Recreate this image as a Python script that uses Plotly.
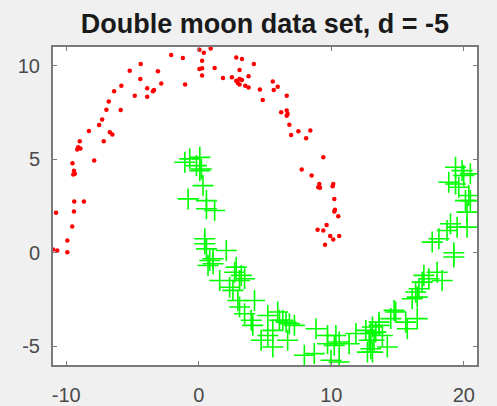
import plotly.graph_objects as go

# Upper moon (red dots)
red_x = [-2.08, -1.20, 0.05, 0.38, 0.25, 0.05, 0.25, 0.25, -4.38, -5.21,
         -3.08, -4.41, -2.83, -1.03, -5.84, -6.39, -3.89, -3.38, -3.46, -4.83,
         -3.89, -6.79, -6.97, -5.89, -7.29, -7.52, -8.29, -6.71, -6.52, -7.17,
         -8.98, -9.10, -8.93, -9.17, 0.90, 1.20, 2.83, 3.26, 4.16, 3.08,
         1.83, 2.50, 2.83, 3.08, 3.26, 2.95, 3.08, 3.76, 3.51, 3.76,
         4.61, 5.59, 5.96, 5.66, 6.64, 4.83, 6.22, 6.64, 6.64, 6.71,
         6.84, 6.97, 7.52, 8.42, 8.10, -9.53, -7.89, -9.42, -9.35, -9.47,
         -9.40, -8.67, -10.77, -9.42, -9.55, -9.92, -10.68, -9.92, -11.0, 9.40,
         7.77, 8.52, 9.10, 9.15, 9.02, 10.15, 10.10, 10.23, 10.28, 10.23,
         10.53, 9.65, 8.97, 9.40, 9.92, 10.15, 10.60, 9.53]
red_y = [10.57, 10.41, 10.85, 10.69, 10.27, 9.82, 9.86, 9.47, 10.09, 9.73,
         9.70, 9.29, 9.05, 8.99, 8.93, 8.63, 8.79, 8.70, 8.63, 8.40,
         8.34, 8.09, 7.65, 7.63, 7.12, 6.83, 6.51, 6.44, 6.32, 5.96,
         5.96, 5.64, 5.58, 5.52, 10.92, 9.88, 10.44, 10.36, 10.09, 9.77,
         9.34, 9.38, 9.20, 9.29, 9.24, 9.08, 8.99, 9.43, 8.93, 8.84,
         8.73, 9.15, 8.88, 8.70, 8.40, 8.17, 7.51, 7.60, 7.33, 7.42,
         6.85, 6.30, 6.49, 6.53, 6.12, 4.78, 4.93, 4.39, 4.22, 4.18,
         2.74, 2.74, 2.14, 2.21, 1.40, 0.66, 0.12, 0.03, 0.18, 5.10,
         4.45, 4.13, 3.68, 3.47, 3.50, 3.68, 3.56, 2.88, 2.30, 2.21,
         1.95, 1.49, 1.23, 1.19, 0.89, 0.71, 0.89, 0.43]

# Lower moon (green crosses)
green_x = [-1.05, -0.68, 0.08, -0.17, 0.20, 0.08, 0.32, -0.80, 0.58, 0.58,
           1.20, 0.45, 0.45, 0.58, 2.08, 0.83, 1.08, 2.83, 0.70, 1.08,
           19.38, 19.87, 20.50, 20.00, 18.87, 19.38, 19.62, 20.38, 20.13, 20.50,
           20.25, 19.00, 19.50, 20.25, 18.74, 18.12, 17.62, 19.25, 2.71, 3.21,
           3.46, 3.08, 1.58, 2.33, 2.58, 2.95, 3.08, 4.21, 3.46, 3.96,
           4.08, 5.21, 5.96, 6.09, 6.34, 6.59, 6.84, 7.22, 8.85, 5.59,
           5.21, 4.71, 5.59, 6.71, 7.97, 8.72, 9.72, 9.72, 10.35, 10.23,
           10.60, 11.35, 9.98, 10.60, 11.86, 12.61, 13.11, 13.36, 12.98, 13.61,
           13.23, 12.98, 13.11, 12.73, 13.86, 14.23, 14.49, 14.86, 15.62, 15.74,
           16.49, 16.11, 16.49, 16.37, 16.62, 16.86, 16.99, 17.37, 17.99, 18.37,
           19.25, 12.86, 13.61, 14.74]
green_y = [4.84, 5.02, 5.10, 4.66, 4.48, 4.39, 3.59, 2.88, 2.79, 2.35,
           2.26, 0.75, 0.48, 0.21, 0.12, -0.41, -0.59, -0.77, -0.68, -0.32,
           4.57, 4.39, 4.22, 4.13, 3.77, 3.68, 3.50, 3.06, 2.79, 2.79,
           2.17, 1.55, 1.37, 1.37, 1.19, 0.75, 0.57, 0.00, -1.04, -1.21,
           -1.39, -1.48, -1.48, -1.84, -2.01, -2.55, -2.90, -2.55, -3.26, -3.61,
           -3.88, -3.35, -3.17, -3.61, -3.61, -3.71, -3.79, -3.88, -4.06, -4.15,
           -4.42, -4.68, -5.04, -4.68, -5.48, -5.39, -4.42, -4.86, -4.42, -4.95,
           -4.77, -4.86, -5.75, -5.84, -4.32, -4.15, -3.97, -4.24, -4.32, -3.71,
           -4.68, -5.13, -5.31, -5.31, -4.42, -5.04, -3.52, -3.17, -3.71, -4.06,
           -3.52, -2.46, -2.37, -2.10, -1.92, -1.57, -1.21, -1.39, -1.04, -1.48,
           -0.23, -4.68, -3.88, -3.08]

x_ticks = [-10, 0, 10, 20]
y_ticks = [-5, 0, 5, 10]
title_text = "Double moon data set, d = -5"

fig = go.Figure()
fig.add_trace(go.Scatter(
    x=red_x, y=red_y, mode="markers",
    marker=dict(color="#ff0000", size=4.5, line=dict(width=0)),
    showlegend=False, cliponaxis=True, hoverinfo="skip"))
fig.add_trace(go.Scatter(
    x=green_x, y=green_y, mode="markers",
    marker=dict(symbol="cross-thin", color="#00ff00", size=15,
                line=dict(color="#00ff00", width=1.6)),
    showlegend=False, cliponaxis=True, hoverinfo="skip"))

axis_common = dict(
    showline=True, linecolor="#7a7a7a", linewidth=2, mirror="allticks",
    ticks="inside", ticklen=4, tickcolor="#7a7a7a", tickwidth=1,
    showgrid=False, zeroline=False, automargin=False,
    tickfont=dict(family="Liberation Sans, Arial", size=20, color="#4a4a4a"),
)

fig.update_layout(
    width=497, height=406,
    paper_bgcolor="#f0f0f0", plot_bgcolor="#ffffff",
    margin=dict(l=53, r=20, t=47, b=41, autoexpand=False),
    title=dict(text="<b>" + title_text + "</b>", x=0.533, xanchor="center",
               y=1 - 24 / 406, yanchor="middle",
               font=dict(family="Liberation Sans, Arial", size=27, color="#1a1a1a")),
    xaxis=dict(range=[-11, 21], tickvals=x_ticks, ticktext=[str(v) for v in x_ticks],
               ticklabelstandoff=11, **axis_common),
    yaxis=dict(range=[-6, 11], tickvals=y_ticks, ticktext=[str(v) for v in y_ticks],
               ticklabelstandoff=7, **axis_common),
)

fig.write_html(
    "out.html",
    config={"displayModeBar": False},
    post_script="document.body.style.margin='0';document.body.style.padding='0';"
                "document.body.style.overflow='hidden';",
)
